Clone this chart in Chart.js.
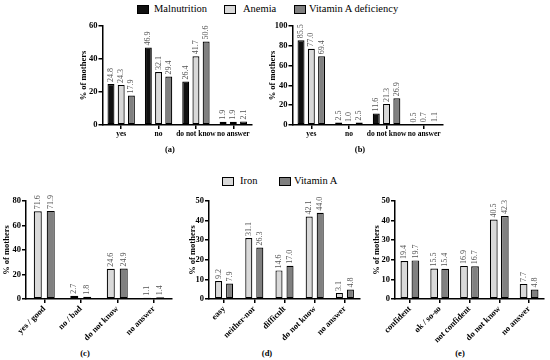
<!DOCTYPE html>
<html>
<head>
<meta charset="utf-8">
<script src="https://cdn.jsdelivr.net/npm/chart.js@4.4.1/dist/chart.umd.min.js"></script>
<style>
  body { margin: 0; background: #fff; }
  #fig { position: relative; width: 550px; height: 360px; overflow: hidden; }
  canvas { position: absolute; }
  .box { position: absolute; width: 10px; height: 7px; border: 1px solid #000; }
  .txt { position: absolute; font-family: "Liberation Serif", serif; font-size: 10.5px;
         line-height: 12px; white-space: nowrap; color: #000; font-weight: normal; }
  .plab { position: absolute; font-family: "Liberation Serif", serif; font-size: 8.5px;
          font-weight: bold; transform: translate(-50%, -50%); }
</style>
</head>
<body>
<div id="fig">
  <!-- legend row 1 -->
  <div class="box" style="left:137px;top:5px;background:#111"></div>
  <div class="txt" style="left:154px;top:3px">Malnutrition</div>
  <div class="box" style="left:224px;top:5px;background:#d9d9d9"></div>
  <div class="txt" style="left:243px;top:3px">Anemia</div>
  <div class="box" style="left:294px;top:5px;background:#808080"></div>
  <div class="txt" style="left:309px;top:3px">Vitamin A deficiency</div>
  <!-- legend row 2 -->
  <div class="box" style="left:222px;top:177px;background:#d9d9d9"></div>
  <div class="txt" style="left:240px;top:175px">Iron</div>
  <div class="box" style="left:279px;top:177px;background:#808080"></div>
  <div class="txt" style="left:294px;top:175px">Vitamin A</div>

  <canvas id="ca" width="181" height="127" style="left:79px;top:18px"></canvas>
  <canvas id="cb" width="183" height="127" style="left:268px;top:18px"></canvas>
  <canvas id="cc" width="178" height="152" style="left:2px;top:193px"></canvas>
  <canvas id="cd" width="180" height="152" style="left:188px;top:193px"></canvas>
  <canvas id="ce" width="178" height="152" style="left:372px;top:193px"></canvas>

  <div class="plab" style="left:170px;top:149px">(a)</div>
  <div class="plab" style="left:360px;top:149px">(b)</div>
  <div class="plab" style="left:85px;top:353px">(c)</div>
  <div class="plab" style="left:267px;top:353px">(d)</div>
  <div class="plab" style="left:460px;top:353px">(e)</div>
</div>
<script>
// Panel (a): knowledge of consequences
const catsA = ['yes', 'no', 'do not know', 'no answer'];
const malnA = [24.8, 46.9, 26.4, 1.9];
const anemA = [24.3, 32.1, 41.7, 1.9];
const vitdA = [17.9, 29.4, 50.6, 2.1];

// Panel (b)
const catsB = ['yes', 'no', 'do not know', 'no answer'];
const malnB = [85.5, 2.5, 11.6, 0.5];
const anemB = [77.0, 1.0, 21.3, 0.7];
const vitdB = [69.4, 2.5, 26.9, 1.1];

// Panel (c)
const catsC = ['yes / good', 'no / bad', 'do not know', 'no answer'];
const ironC = [71.6, 2.7, 24.6, 1.1];
const vitaC = [71.9, 1.8, 24.9, 1.4];

// Panel (d)
const catsD = ['easy', 'neither-nor', 'difficult', 'do not know', 'no answer'];
const ironD = [9.2, 31.1, 14.6, 42.1, 3.1];
const vitaD = [7.9, 26.3, 17.0, 44.0, 4.8];

// Panel (e)
const catsE = ['confident', 'ok / so-so', 'not confident', 'do not know', 'no answer'];
const ironE = [19.4, 15.5, 16.9, 40.5, 7.7];
const vitaE = [19.7, 15.4, 16.7, 42.3, 4.8];

const FONT = "'Liberation Serif', 'Times New Roman', serif";
Chart.defaults.font.family = FONT;
Chart.defaults.color = '#000';

const BLACK = '#111';
const LIGHT = '#d9d9d9';
const DARK = '#808080';

// rotated value labels on top of every bar
const valueLabels = {
  id: 'valueLabels',
  afterDatasetsDraw(chart) {
    const ctx = chart.ctx;
    ctx.save();
    ctx.font = '8px ' + FONT;
    ctx.fillStyle = '#555';
    ctx.textAlign = 'left';
    ctx.textBaseline = 'middle';
    chart.data.datasets.forEach((ds, i) => {
      chart.getDatasetMeta(i).data.forEach((bar, j) => {
        ctx.save();
        ctx.translate(bar.x, bar.y - 2);
        ctx.rotate(-Math.PI / 2);
        ctx.fillText(ds.data[j].toFixed(1), 0, 0);
        ctx.restore();
      });
    });
    ctx.restore();
  }
};

function ds(data, color, cp, bp) {
  return {
    data, backgroundColor: color, borderColor: '#000', borderWidth: 1.2,
    borderSkipped: false, categoryPercentage: cp, barPercentage: bp
  };
}

function makePanel(id, labels, datasets, o) {
  const canvas = document.getElementById(id);
  return new Chart(canvas.getContext('2d'), {
    type: 'bar',
    data: { labels, datasets },
    plugins: [valueLabels],
    options: {
      responsive: false, animation: false,
      layout: { padding: { top: 8, right: o.padR, left: 0, bottom: 0 } },
      plugins: { legend: { display: false }, tooltip: { enabled: false } },
      scales: {
        x: {
          grid: { offset: false, drawOnChartArea: false, color: '#000', lineWidth: 1.5, tickLength: 4 },
          border: { color: '#000', width: 1.5 },
          ticks: {
            autoSkip: false, padding: 1,
            minRotation: o.rot, maxRotation: o.rot,
            font: { size: o.xFont, weight: 'bold' }
          },
          afterFit: s => { s.height = o.xH; }
        },
        y: {
          min: 0, max: o.max,
          grid: { drawOnChartArea: false, color: '#000', lineWidth: 1.5, tickLength: 4 },
          border: { color: '#000', width: 1.5 },
          ticks: { stepSize: o.step, padding: 1, font: { size: 8.5, weight: 'bold' } },
          title: { display: true, text: '% of mothers', padding: 0, font: { size: 8.5, weight: 'bold' } },
          afterFit: s => { s.width = o.yW; }
        }
      }
    }
  });
}

makePanel('ca', catsA, [
  ds(malnA, BLACK, 0.82, 0.68), ds(anemA, LIGHT, 0.82, 0.68), ds(vitdA, DARK, 0.82, 0.68)
], { max: 60, step: 20, yW: 23.5, padR: 8, xH: 20, rot: 0, xFont: 7.5 });

makePanel('cb', catsB, [
  ds(malnB, BLACK, 0.82, 0.68), ds(anemB, LIGHT, 0.82, 0.68), ds(vitdB, DARK, 0.82, 0.68)
], { max: 100, step: 20, yW: 24.5, padR: 8, xH: 20, rot: 0, xFont: 7.5 });

makePanel('cc', catsC, [
  ds(ironC, LIGHT, 0.71, 0.62), ds(vitaC, DARK, 0.71, 0.62)
], { max: 80, step: 20, yW: 24, padR: 8, xH: 46, rot: 45, xFont: 8.5 });

makePanel('cd', catsD, [
  ds(ironD, LIGHT, 0.73, 0.64), ds(vitaD, DARK, 0.73, 0.64)
], { max: 50, step: 10, yW: 21, padR: 8, xH: 46, rot: 45, xFont: 8.5 });

makePanel('ce', catsE, [
  ds(ironE, LIGHT, 0.74, 0.7), ds(vitaE, DARK, 0.74, 0.7)
], { max: 50, step: 10, yW: 23, padR: 6, xH: 46, rot: 45, xFont: 8.5 });
</script>
</body>
</html>
